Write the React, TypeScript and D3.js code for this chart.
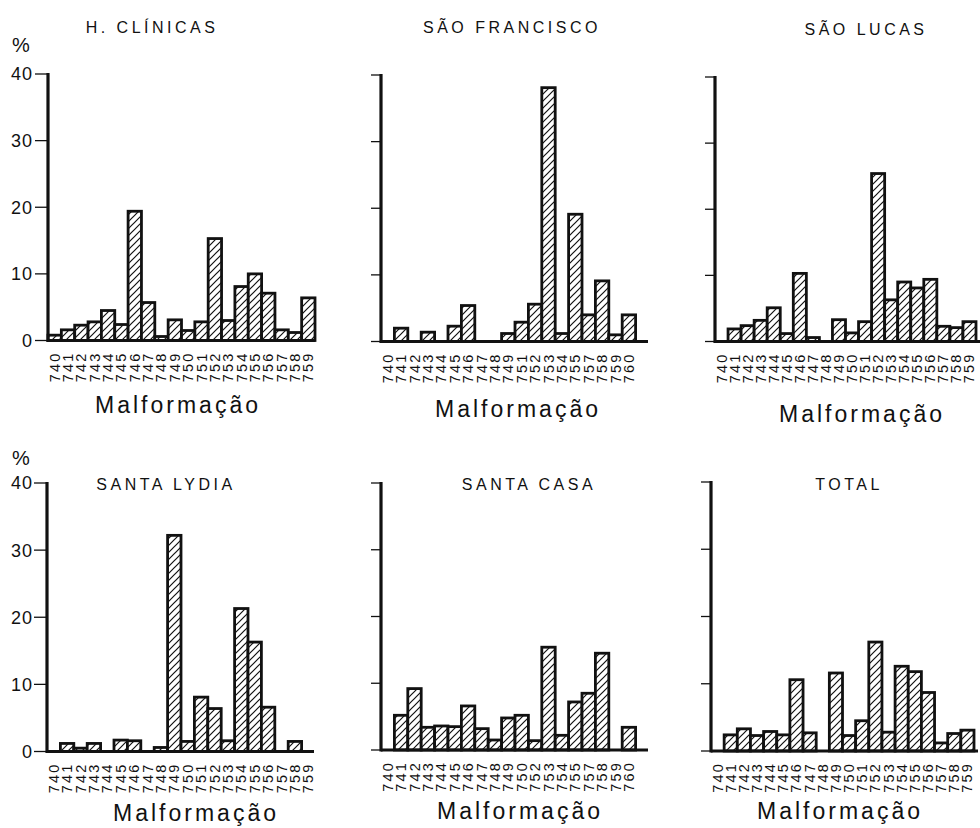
import React from "react";
import * as d3 from "d3";

// % of malformations by code (ICD 740-760)
const hcCategories = ["740", "741", "742", "743", "744", "745", "746", "747", "748", "749", "750", "751", "752", "753", "754", "755", "756", "757", "758", "759"];
const hcValues = [0.8, 1.6, 2.3, 2.8, 4.5, 2.4, 19.4, 5.7, 0.6, 3.1, 1.5, 2.8, 15.3, 3.0, 8.1, 10.0, 7.1, 1.6, 1.2, 6.4];

const sfCategories = ["740", "741", "742", "743", "744", "745", "746", "747", "748", "749", "751", "752", "753", "754", "755", "757", "758", "759", "760"];
const sfValues = [0, 2.0, 0, 1.4, 0, 2.3, 5.4, 0, 0, 1.2, 2.9, 5.6, 38.1, 1.2, 19.1, 4.0, 9.1, 1.0, 4.0];

const slCategories = ["740", "741", "742", "743", "744", "745", "746", "747", "748", "749", "750", "751", "752", "753", "754", "755", "756", "757", "758", "759"];
const slValues = [0, 1.9, 2.4, 3.2, 5.1, 1.2, 10.3, 0.6, 0, 3.3, 1.3, 3.0, 25.4, 6.3, 9.0, 8.1, 9.4, 2.3, 2.1, 3.0];

const lyCategories = ["740", "741", "742", "743", "744", "745", "746", "747", "748", "749", "750", "751", "752", "753", "754", "755", "756", "757", "758", "759"];
const lyValues = [0, 1.2, 0.5, 1.2, 0, 1.7, 1.6, 0, 0.6, 32.2, 1.5, 8.1, 6.4, 1.6, 21.3, 16.3, 6.6, 0, 1.5, 0];

const scCategories = ["740", "741", "742", "743", "744", "745", "746", "747", "748", "749", "750", "752", "753", "754", "755", "757", "758", "759", "760"];
const scValues = [0, 5.2, 9.2, 3.4, 3.6, 3.5, 6.6, 3.2, 1.5, 4.8, 5.2, 1.4, 15.4, 2.2, 7.2, 8.5, 14.5, 0, 3.4];

const totCategories = ["740", "741", "742", "743", "744", "745", "746", "747", "748", "749", "750", "751", "752", "753", "754", "755", "756", "757", "758", "759"];
const totValues = [0, 2.4, 3.3, 2.3, 2.9, 2.4, 10.6, 2.7, 0, 11.6, 2.3, 4.5, 16.2, 2.8, 12.6, 11.8, 8.7, 1.2, 2.6, 3.1];

const yTicks = [0, 10, 20, 30, 40];
const xTitle = "Malformação";

// layout of the six small multiples
const panels = [
  { title: "H. CLÍNICAS", cats: hcCategories, vals: hcValues, ax: 48, band: 13.35, y0: 340.5, yTop: 74, titleX: 152, titleY: 33, labY: 413, labX: 178, showY: true, pctY: 52 },
  { title: "SÃO FRANCISCO", cats: sfCategories, vals: sfValues, ax: 381, band: 13.4, y0: 341.5, yTop: 75, titleX: 512, titleY: 33, labY: 417, labX: 518, showY: false },
  { title: "SÃO LUCAS", cats: slCategories, vals: slValues, ax: 715, band: 13.05, y0: 341.5, yTop: 77, titleX: 866, titleY: 35, labY: 422, labX: 862, showY: false },
  { title: "SANTA LYDIA", cats: lyCategories, vals: lyValues, ax: 47, band: 13.4, y0: 751.5, yTop: 483, titleX: 166, titleY: 490, labY: 821, labX: 196, showY: true, pctY: 465 },
  { title: "SANTA CASA", cats: scCategories, vals: scValues, ax: 381, band: 13.4, y0: 750, yTop: 483, titleX: 529, titleY: 490, labY: 819, labX: 520, showY: false },
  { title: "TOTAL", cats: totCategories, vals: totValues, ax: 711, band: 13.15, y0: 751, yTop: 482, titleX: 849, titleY: 490, labY: 819, labX: 840, showY: false },
];

const AXIS_LEN = 267;
const font = "'Liberation Sans', Arial, sans-serif";
const ink = "#111";

const Panel = ({ p }) => {
  const x = d3.scaleBand().domain(p.cats).range([p.ax, p.ax + p.cats.length * p.band]).padding(0);
  const y = d3.scaleLinear().domain([0, 40]).range([p.y0, p.yTop]);
  const bars = p.cats.map((c, i) => ({ c, v: p.vals[i] })).filter(d => d.v > 0);

  return (
    <g>
      <text x={p.titleX} y={p.titleY} textAnchor="middle" fontFamily={font} fontSize={16} letterSpacing={3.5} fill={ink}>{p.title}</text>
      {p.showY && <text x={12} y={p.pctY} fontFamily={font} fontSize={20} fill={ink}>%</text>}

      {bars.map(d => (
        <rect key={d.c} x={x(d.c)} y={y(d.v)} width={x.bandwidth()} height={y(0) - y(d.v)}
          fill="url(#hatch)" stroke={ink} strokeWidth={2.8} />
      ))}

      {/* y axis */}
      <line x1={p.ax} x2={p.ax} y1={y(0) + 1.5} y2={y(40) - 1} stroke={ink} strokeWidth={3.2} />
      {yTicks.map(t => (
        <line key={t} x1={p.ax - (p.showY ? 13 : 10)} x2={p.ax} y1={y(t)} y2={y(t)} stroke={ink} strokeWidth={1.3} />
      ))}
      {p.showY && yTicks.map(t => (
        <text key={"l" + t} x={33} y={y(t)} dy="0.36em" textAnchor="end" fontFamily={font} fontSize={18} letterSpacing={1} fill={ink}>{t}</text>
      ))}

      {/* baseline */}
      <line x1={p.ax} x2={Math.min(p.ax + AXIS_LEN, 980)} y1={y(0)} y2={y(0)} stroke={ink} strokeWidth={3.2} />

      {/* category labels, rotated */}
      {p.cats.map(c => (
        <text key={"c" + c} transform={`translate(${x(c) + x.bandwidth() / 2},${y(0) + 11}) rotate(-90)`}
          textAnchor="end" dominantBaseline="central" fontFamily={font} fontSize={14.5} letterSpacing={2.2} fill={ink}>{c}</text>
      ))}

      <text x={p.labX} y={p.labY} textAnchor="middle" fontFamily={font} fontSize={23} letterSpacing={3} fill={ink}>{xTitle}</text>
    </g>
  );
};

export default function App() {
  return (
    <svg width={980} height={828} style={{ position: "absolute", left: 0, top: 0, background: "#fff" }}>
      <defs>
        <pattern id="hatch" patternUnits="userSpaceOnUse" width={7} height={7}>
          <rect width={7} height={7} fill="#fff" />
          <path d="M-1,1 l2,-2 M0,7 l7,-7 M6,8 l2,-2" stroke={ink} strokeWidth={1.2} />
        </pattern>
      </defs>
      <rect width={980} height={828} fill="#fff" />
      {panels.map(p => <Panel key={p.title} p={p} />)}
    </svg>
  );
}
